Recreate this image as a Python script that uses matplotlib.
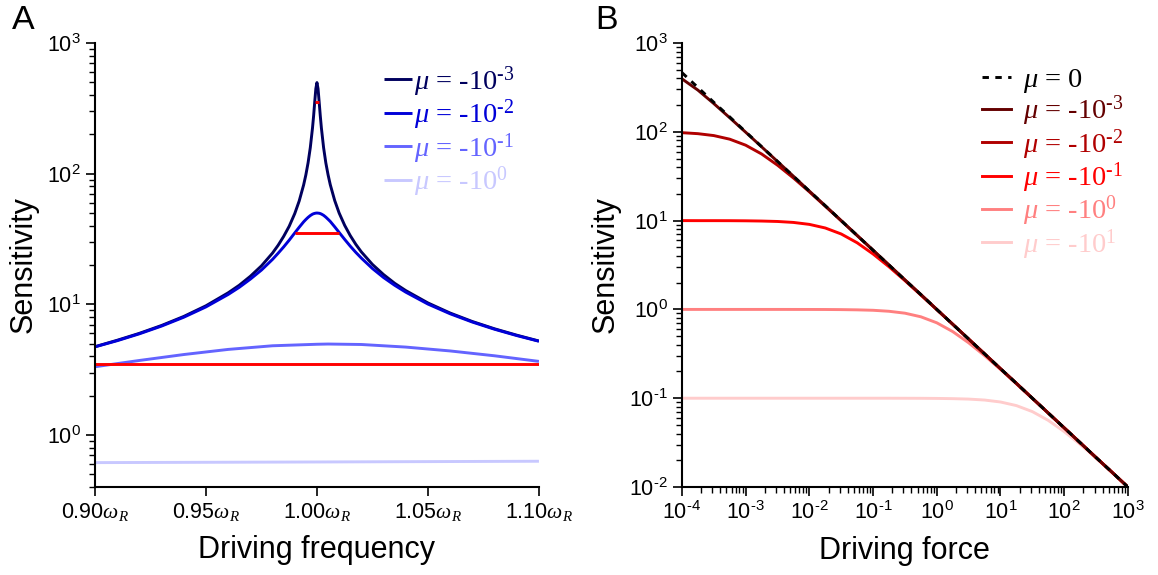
import matplotlib
matplotlib.use('Agg')
import matplotlib.pyplot as plt
import numpy as np
from matplotlib.ticker import LogLocator, FuncFormatter, NullFormatter

plt.rcParams['font.family'] = ['Liberation Sans', 'DejaVu Sans']
plt.rcParams['mathtext.fontset'] = 'custom'
plt.rcParams['mathtext.rm'] = 'Liberation Serif'
plt.rcParams['mathtext.it'] = 'Liberation Serif:italic'
plt.rcParams['mathtext.bf'] = 'Liberation Serif:bold'
plt.rcParams['mathtext.sf'] = 'Liberation Sans'

HY = '\u2010'  # short hyphen used in the exponents

# ---- panel A: sensitivity vs driving frequency (in units of omega_R)
freq = [0.900, 0.910, 0.920, 0.930, 0.940, 0.950, 0.960, 0.965, 0.970, 0.975,
        0.980, 0.9825, 0.985, 0.9875, 0.990, 0.992, 0.994, 0.995, 0.996, 0.997,
        0.998, 0.9985, 0.999, 0.9995, 1.000, 1.0005, 1.001, 1.0015, 1.002, 1.003,
        1.004, 1.005, 1.006, 1.008, 1.010, 1.0125, 1.015, 1.0175, 1.020, 1.025,
        1.030, 1.035, 1.040, 1.050, 1.060, 1.070, 1.080, 1.090, 1.100]
sens_a_m3 = [4.74, 5.31, 6.00, 6.89, 8.08, 9.75, 12.25, 14.0, 16.4, 19.7,
             24.7, 28.3, 33.1, 39.6, 49.5, 61.8, 82.0, 97.8, 121, 158,
             224, 277, 354, 447, 498, 447, 354, 278, 224, 158,
             121, 98.3, 82.4, 62.3, 50.0, 40.2, 33.6, 28.8, 25.2, 20.2,
             16.9, 14.5, 12.75, 10.25, 8.58, 7.39, 6.50, 5.81, 5.24]
sens_a_m2 = [4.73, 5.27, 5.95, 6.82, 7.97, 9.56, 11.9, 13.5, 15.6, 18.3,
             22.1, 24.6, 27.5, 31.0, 35.2, 38.9, 42.8, 44.6, 46.3, 47.8,
             49.0, 49.4, 49.7, 49.9, 50.0, 49.9, 49.8, 49.5, 49.1, 48.0,
             46.5, 44.8, 43.1, 39.2, 35.5, 31.4, 27.9, 25.0, 22.6, 18.8,
             16.05, 14.0, 12.4, 10.05, 8.47, 7.32, 6.45, 5.77, 5.22]
freq_wide = [0.90, 0.92, 0.94, 0.96, 0.98, 1.00, 1.005, 1.02, 1.04, 1.06, 1.08, 1.10]
sens_a_m1 = [3.33, 3.72, 4.13, 4.52, 4.82, 4.95, 4.97, 4.93, 4.71, 4.40, 4.04, 3.66]
freq_flat = [0.90, 1.00, 1.10]
sens_a_p0 = [0.615, 0.622, 0.630]

# red half-power markers
half_lo_freq, half_lo_sens = [0.90, 1.10], [3.50, 3.50]
half_mid_freq, half_mid_sens = [0.990, 1.010], [35.2, 35.2]
half_top_freq, half_top_sens = [0.999, 1.001], [352, 352]

freq_ticks = [0.90, 0.95, 1.00, 1.05, 1.10]
freq_tick_labels = [r'0.90$\omega_R$', r'0.95$\omega_R$', r'1.00$\omega_R$',
                    r'1.05$\omega_R$', r'1.10$\omega_R$']
labels_a = [r'$\mu$ = -10$^{%s3}$' % HY, r'$\mu$ = -10$^{%s2}$' % HY,
            r'$\mu$ = -10$^{%s1}$' % HY, r'$\mu$ = -10$^{0}$']
colors_a = ['#00005e', '#0000d8', '#6464ff', '#c8c8ff']

# ---- panel B: sensitivity vs driving force (log10 of force, quarter decades)
log_force = [-4, -3.75, -3.5, -3.25, -3, -2.75, -2.5, -2.25, -2, -1.75,
             -1.5, -1.25, -1, -0.75, -0.5, -0.25, 0, 0.25, 0.5, 0.75,
             1, 1.25, 1.5, 1.75, 2, 2.25, 2.5, 2.75, 3]
sens_b_0 = [464, 316, 215, 147, 100, 68.1, 46.4, 31.6, 21.5, 14.7,
            10.0, 6.81, 4.64, 3.16, 2.15, 1.47, 1.00, 0.681, 0.464, 0.316,
            0.215, 0.147, 0.100, 0.0681, 0.0464, 0.0316, 0.0215, 0.0147, 0.0100]
sens_b_m3 = [395, 295, 208, 144, 99.0, 67.8, 46.3, 31.6, 21.5, 14.7,
             10.0, 6.81, 4.64, 3.16, 2.15, 1.47, 1.00, 0.681, 0.464, 0.316,
             0.215, 0.147, 0.100, 0.0681, 0.0464, 0.0316, 0.0215, 0.0147, 0.0100]
sens_b_m2 = [97.8, 95.3, 90.7, 82.6, 70.7, 56.3, 42.1, 30.2, 21.1, 14.5,
             9.95, 6.80, 4.64, 3.16, 2.15, 1.47, 1.00, 0.681, 0.464, 0.316,
             0.215, 0.147, 0.100, 0.0681, 0.0464, 0.0316, 0.0215, 0.0147, 0.0100]
sens_b_m1 = [10.0, 9.99, 9.99, 9.98, 9.95, 9.89, 9.78, 9.54, 9.07, 8.26,
             7.07, 5.63, 4.21, 3.02, 2.11, 1.45, 0.995, 0.681, 0.464, 0.316,
             0.215, 0.147, 0.100, 0.0681, 0.0464, 0.0316, 0.0215, 0.0147, 0.0100]
sens_b_p0 = [1.00, 1.00, 1.00, 1.00, 1.00, 1.00, 1.00, 0.9995, 0.999, 0.998,
             0.995, 0.989, 0.978, 0.953, 0.907, 0.826, 0.707, 0.563, 0.421, 0.302,
             0.211, 0.145, 0.0995, 0.0680, 0.0464, 0.0316, 0.0215, 0.0147, 0.0100]
sens_b_p1 = [0.100, 0.100, 0.100, 0.100, 0.100, 0.100, 0.100, 0.100, 0.100, 0.100,
             0.100, 0.100, 0.100, 0.100, 0.0999, 0.0998, 0.0995, 0.0989, 0.0978, 0.0954,
             0.0907, 0.0826, 0.0707, 0.0563, 0.0421, 0.0302, 0.0211, 0.0145, 0.00995]
labels_b = [r'$\mu$ = 0', r'$\mu$ = -10$^{%s3}$' % HY, r'$\mu$ = -10$^{%s2}$' % HY,
            r'$\mu$ = -10$^{%s1}$' % HY, r'$\mu$ = -10$^{0}$', r'$\mu$ = -10$^{1}$']
colors_b = ['black', '#640000', '#b00000', '#ff0000', '#ff8080', '#ffcccc']

LW = 2.1


def pow10(v, pos):
    e = int(round(np.log10(v)))
    s = (HY + str(-e)) if e < 0 else str(e)
    return r'$\mathregular{10^{%s}}$' % s


def style_axis(ax):
    for s in ['top', 'right']:
        ax.spines[s].set_visible(False)
    for s in ['left', 'bottom']:
        ax.spines[s].set_linewidth(1.5)
    ax.tick_params(which='major', direction='out', length=6.5, width=1.2,
                   labelsize=15.5, color='black')
    ax.tick_params(which='minor', direction='out', length=4.5, width=1.0)


fig = plt.figure(figsize=(11.58, 5.75), dpi=100)

# ---------------- panel A
axA = fig.add_axes([0.0820, 0.1530, 0.3834, 0.7722])
series_a = [(freq, sens_a_m3), (freq, sens_a_m2), (freq_wide, sens_a_m1), (freq_flat, sens_a_p0)]
handles_a = []
for (fx, fy), c in zip(series_a, colors_a):
    h, = axA.plot(fx, fy, color=c, lw=LW, solid_capstyle='butt')
    handles_a.append(h)
for fx, fy in [(half_lo_freq, half_lo_sens), (half_mid_freq, half_mid_sens),
               (half_top_freq, half_top_sens)]:
    axA.plot(fx, fy, color='#ff0000', lw=LW, solid_capstyle='butt')

axA.set_yscale('log')
axA.set_xlim(0.9, 1.1)
axA.set_ylim(0.4, 1000)
axA.set_xticks(freq_ticks)
axA.set_xticklabels(freq_tick_labels)
axA.yaxis.set_major_locator(LogLocator(base=10, numticks=20))
axA.yaxis.set_minor_locator(LogLocator(base=10, subs=np.arange(2, 10), numticks=20))
axA.yaxis.set_major_formatter(FuncFormatter(pow10))
axA.yaxis.set_minor_formatter(NullFormatter())
style_axis(axA)
axA.set_xlabel('Driving frequency', fontsize=22, labelpad=9)
axA.set_ylabel('Sensitivity', fontsize=22, labelpad=6)
axA.legend(handles_a, labels_a, loc='upper left', bbox_to_anchor=(0.651, 0.952),
           frameon=False, handlelength=1.0, handletextpad=0.05, labelspacing=-0.04,
           borderpad=0, borderaxespad=0, labelcolor='linecolor',
           prop={'family': 'Liberation Serif', 'size': 20.5})

# ---------------- panel B
axB = fig.add_axes([0.5889, 0.1530, 0.3851, 0.7722])
force = 10.0 ** np.array(log_force)
series_b = [sens_b_0, sens_b_m3, sens_b_m2, sens_b_m1, sens_b_p0, sens_b_p1]
handles_b = [None] * 6
for i in range(5, 0, -1):
    h, = axB.plot(force, series_b[i], color=colors_b[i], lw=LW)
    handles_b[i] = h
h, = axB.plot(force, series_b[0], color=colors_b[0], lw=LW, linestyle=(0, (2.2, 2.2)))
handles_b[0] = h

axB.set_xscale('log')
axB.set_yscale('log')
axB.set_xlim(1e-4, 1e3)
axB.set_ylim(1e-2, 1e3)
for axis in [axB.xaxis, axB.yaxis]:
    axis.set_major_locator(LogLocator(base=10, numticks=20))
    axis.set_minor_locator(LogLocator(base=10, subs=np.arange(2, 10), numticks=20))
    axis.set_major_formatter(FuncFormatter(pow10))
    axis.set_minor_formatter(NullFormatter())
style_axis(axB)
axB.set_xlabel('Driving force', fontsize=22, labelpad=9)
axB.set_ylabel('Sensitivity', fontsize=22, labelpad=6)
axB.legend(handles_b, labels_b, loc='upper left', bbox_to_anchor=(0.673, 0.946),
           frameon=False, handlelength=1.0, handletextpad=0.45, labelspacing=-0.04,
           borderpad=0, borderaxespad=0, labelcolor='linecolor',
           prop={'family': 'Liberation Serif', 'size': 20.5})

fig.text(0.0104, 0.9496, 'A', fontsize=24.5, va='baseline', ha='left')
fig.text(0.5138, 0.9496, 'B', fontsize=24.5, va='baseline', ha='left')

fig.savefig('out.png', dpi=100)
